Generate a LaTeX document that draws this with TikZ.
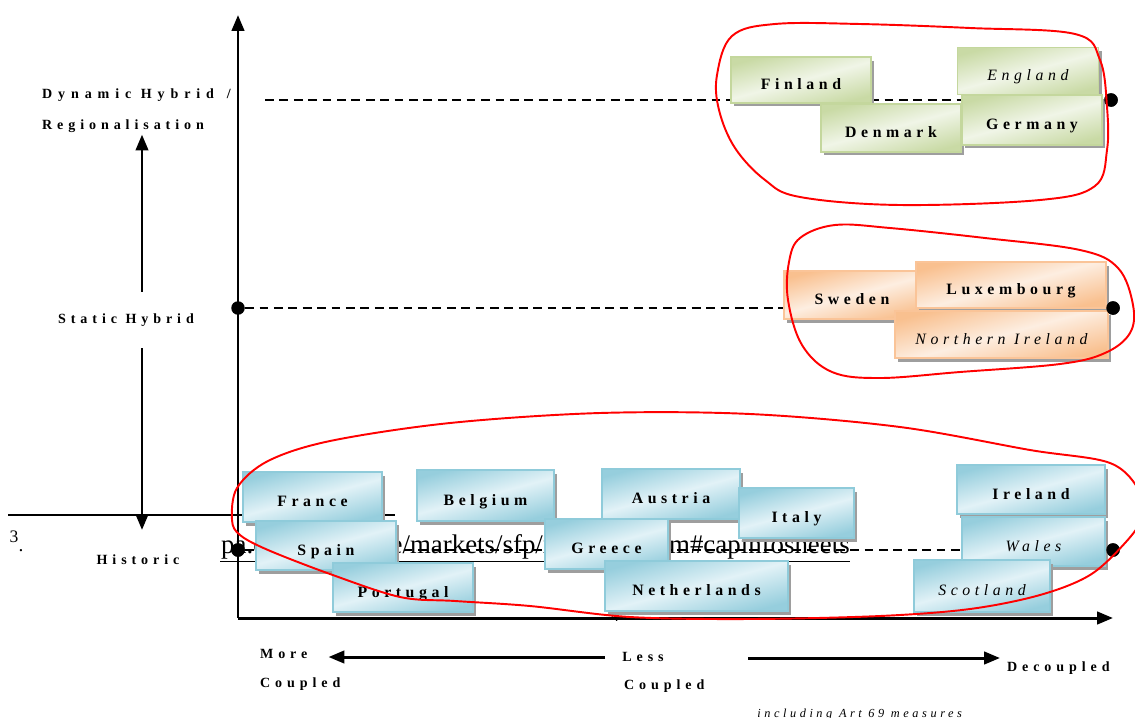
\documentclass[tikz,border=0pt]{standalone}
\usepackage{fontspec}
\setmainfont{Liberation Serif}
\newfontfamily\boxfont[LetterSpace=29]{Liberation Serif}
\newfontfamily\axisfont[LetterSpace=35]{Liberation Serif}
\newfontfamily\dynfont[LetterSpace=42]{Liberation Serif}
\usetikzlibrary{arrows.meta, positioning, shadows, calc}
\definecolor{blueedge}{RGB}{143,203,218}
\definecolor{bluedark}{RGB}{150,206,221}
\definecolor{bluelight}{RGB}{226,242,247}
\definecolor{greenedge}{RGB}{196,215,157}
\definecolor{greendark}{RGB}{201,218,165}
\definecolor{greenlight}{RGB}{240,245,231}
\definecolor{orangeedge}{RGB}{250,196,152}
\definecolor{orangedark}{RGB}{249,192,143}
\definecolor{orangelight}{RGB}{253,238,225}

\begin{document}
\begin{tikzpicture}[x=0.02cm, y=-0.02cm,
  country/.style={draw, line width=0.8pt, minimum height=0.98cm, inner sep=0pt,
    text height=11pt, text depth=0pt,
    font=\boxfont\bfseries\fontsize{9}{10}\selectfont,
    drop shadow={shadow xshift=0.06cm, shadow yshift=-0.07cm, fill=black!38, opacity=1}},
  bluebox/.style={country, draw=blueedge, top color=bluedark, bottom color=bluedark, middle color=bluelight, shading angle=15},
  greenbox/.style={country, draw=greenedge, top color=greendark, bottom color=greendark, middle color=greenlight, shading angle=15},
  orangebox/.style={country, draw=orangeedge, top color=orangedark, bottom color=orangedark, middle color=orangelight, shading angle=15},
  axislabel/.style={font=\axisfont\bfseries\fontsize{8}{9}\selectfont, inner sep=1pt},
  dot/.style={circle, fill=black, inner sep=0pt, minimum size=0.27cm},
  axis/.style={line width=1.7pt, -{Triangle[length=9pt,width=7pt]}},
  level/.style={line width=1.6pt, dash pattern=on 5pt off 3.2pt},
  ring/.style={red, line width=1.1pt}]

  \clip (0,0) rectangle (1135,717);

  % stray footnote bits of the page
  \draw[line width=1pt] (8,515) coordinate (rulea) -- (395,515) coordinate (ruleb);
  \node[font=\fontsize{10}{10}\selectfont, inner sep=0pt] (fnthree) at (14,537) {3};
  \node[font=\fontsize{11}{11}\selectfont, inner sep=0pt] (fndot) at (21,551) {.};
  \node[font=\fontsize{9}{9}\selectfont, inner sep=0pt] (fnfour) at (615,616) {4};
  \begin{scope}
    \clip (220,520) rectangle (900,575);
    \node[font=\fontsize{15.3}{17}\selectfont, anchor=base east, inner sep=0pt] (url) at (850,553)
      {\underline{http://ec.europa.eu/agriculture/markets/sfp/index\_en.htm\#capinfosheets}};
  \end{scope}

  % axes
  \coordinate (O) at (238,618);
  \coordinate (ytop) at (238,15);
  \coordinate (xend) at (1113,618);
  \draw[axis] (O) -- (ytop);
  \draw[axis] (O) -- (xend);

  % level labels
  \node[axislabel, font=\dynfont\bfseries\fontsize{8}{9}\selectfont, anchor=west] (dyn) at (40,95) {Dynamic Hybrid \hspace{2pt}/};
  \node[axislabel, anchor=west] (reg) at (40,126) {Regionalisation};
  \node[axislabel, minimum height=1.12cm] (stat) at (126,320) {Static Hybrid};
  \node[axislabel] (hist) at (138,560) {Historic};
  \coordinate (histtop) at (142,530);
  \draw[axis] (stat.north -| histtop) -- (histtop |- reg.south);
  \draw[axis] (stat.south -| histtop) -- (histtop);

  % levels
  \coordinate (dynstart) at (265,100);
  \node[dot] (dynend) at (1111,100) {};
  \node[dot] (statstart) at (238,308) {};
  \node[dot] (statend) at (1113,308) {};
  \node[dot] (histstart) at (238,550) {};
  \node[dot] (histend) at (1113,550) {};
  \draw[level] (dynstart) -- (dynend);
  \draw[level] (statstart) -- (statend);
  \draw[level] (histstart) -- (histend);

  % coupling
  \node[axislabel, anchor=west] (more) at (258,654) {More};
  \node[axislabel, anchor=west] (morec) at (258,684) {Coupled};
  \node[axislabel, anchor=west, inner sep=0pt] (less) at (622,657) {Less};
  \node[axislabel, anchor=west] (lessc) at (622,686) {Coupled};
  \node[axislabel, anchor=west] (decoup) at (1005,668) {Decoupled};
  \coordinate (rightstart) at (748,658);
  \draw[axis, shorten <=0.34cm, shorten >=0.38cm] (less.west) -- (less.west -| more.east);
  \draw[axis] (rightstart) -- (rightstart -| 1000,0);
  \node[font=\boxfont\itshape\fontsize{7}{7}\selectfont, anchor=base west, inner sep=0pt] (art) at (757,717) {including Art 69 measures};

  % dynamic hybrid
  \node[greenbox, minimum width=2.8cm, minimum height=0.92cm] (finland) at (801,80) {Finland};
  \node[greenbox, minimum width=2.82cm, minimum height=0.94cm] (england) at (1028,71) {\mdseries\itshape England};
  \node[greenbox, minimum width=2.8cm, minimum height=0.96cm] (denmark) at (891,128) {Denmark};
  \node[greenbox, minimum width=2.8cm, minimum height=1cm] (germany) at (1032,120) {Germany};

  % static hybrid
  \node[orangebox, minimum width=2.72cm, minimum height=0.96cm] (sweden) at (852,295) {Sweden};
  \node[orangebox, minimum width=3.8cm, minimum height=0.92cm] (luxembourg) at (1011,285) {Luxembourg};
  \node[orangebox, minimum width=4.26cm, minimum height=0.94cm] (nireland) at (1001.5,334.5) {\mdseries\itshape Northern Ireland};

  % historic
  \node[bluebox, minimum width=2.78cm, minimum height=1cm] (france) at (312.5,497) {France};
  \node[bluebox, minimum width=2.74cm, minimum height=1.02cm] (belgium) at (485.5,495.5) {Belgium};
  \node[bluebox, minimum width=2.76cm, minimum height=1cm] (austria) at (671,494) {Austria};
  \node[bluebox, minimum width=2.3cm, minimum height=1cm] (italy) at (796.5,513) {Italy};
  \node[bluebox, minimum width=2.8cm, minimum height=0.98cm] (spain) at (326,545.5) {Spain};
  \node[bluebox, minimum width=2.46cm, minimum height=1cm] (greece) at (606.5,544) {Greece};
  \node[bluebox, minimum width=2.8cm, minimum height=0.98cm] (portugal) at (403,587.5) {Portugal};
  \node[bluebox, minimum width=3.66cm, minimum height=1cm] (netherlands) at (696.5,586) {Netherlands};
  \node[bluebox, minimum width=2.96cm, minimum height=0.98cm] (ireland) at (1031,489.5) {Ireland};
  \node[bluebox, minimum width=2.86cm, minimum height=0.98cm] (wales) at (1033.5,541.5) {\mdseries\itshape Wales};
  \node[bluebox, minimum width=2.72cm, minimum height=1.04cm] (scotland) at (982,586) {\mdseries\itshape Scotland};

  % dots over the boxes
  \node[dot] at (dynend) {};
  \node[dot] at (statend) {};
  \node[dot] at (histend) {};
  \node[dot] at (histstart) {};

  % groups
  \draw[ring] plot[smooth cycle, tension=0.6] coordinates {(717,75) (732,36) (775,24) (860,24) (970,28) (1075,34) (1100,60) (1107,107) (1107,150) (1095,186) (1040,200) (900,205) (800,197) (765,180) (735,148) (719,110)};
  \draw[ring] plot[smooth cycle, tension=0.6] coordinates {(789,262) (800,238) (835,225) (890,228) (985,238) (1080,250) (1118,268) (1133,305) (1130,333) (1105,353) (1060,364) (960,372) (880,378) (832,372) (802,345) (788,300)};
  \draw[ring] plot[smooth cycle, tension=0.55] coordinates {(232,520) (237,488) (268,461) (330,441) (450,423) (600,413) (750,414) (900,427) (1030,450) (1110,463) (1140,492) (1142,518) (1125,543) (1090,575) (1040,595) (970,609) (880,616) (750,619) (630,617) (530,606) (455,601) (400,597) (330,574) (268,550) (240,535)};
\end{tikzpicture}
\end{document}
